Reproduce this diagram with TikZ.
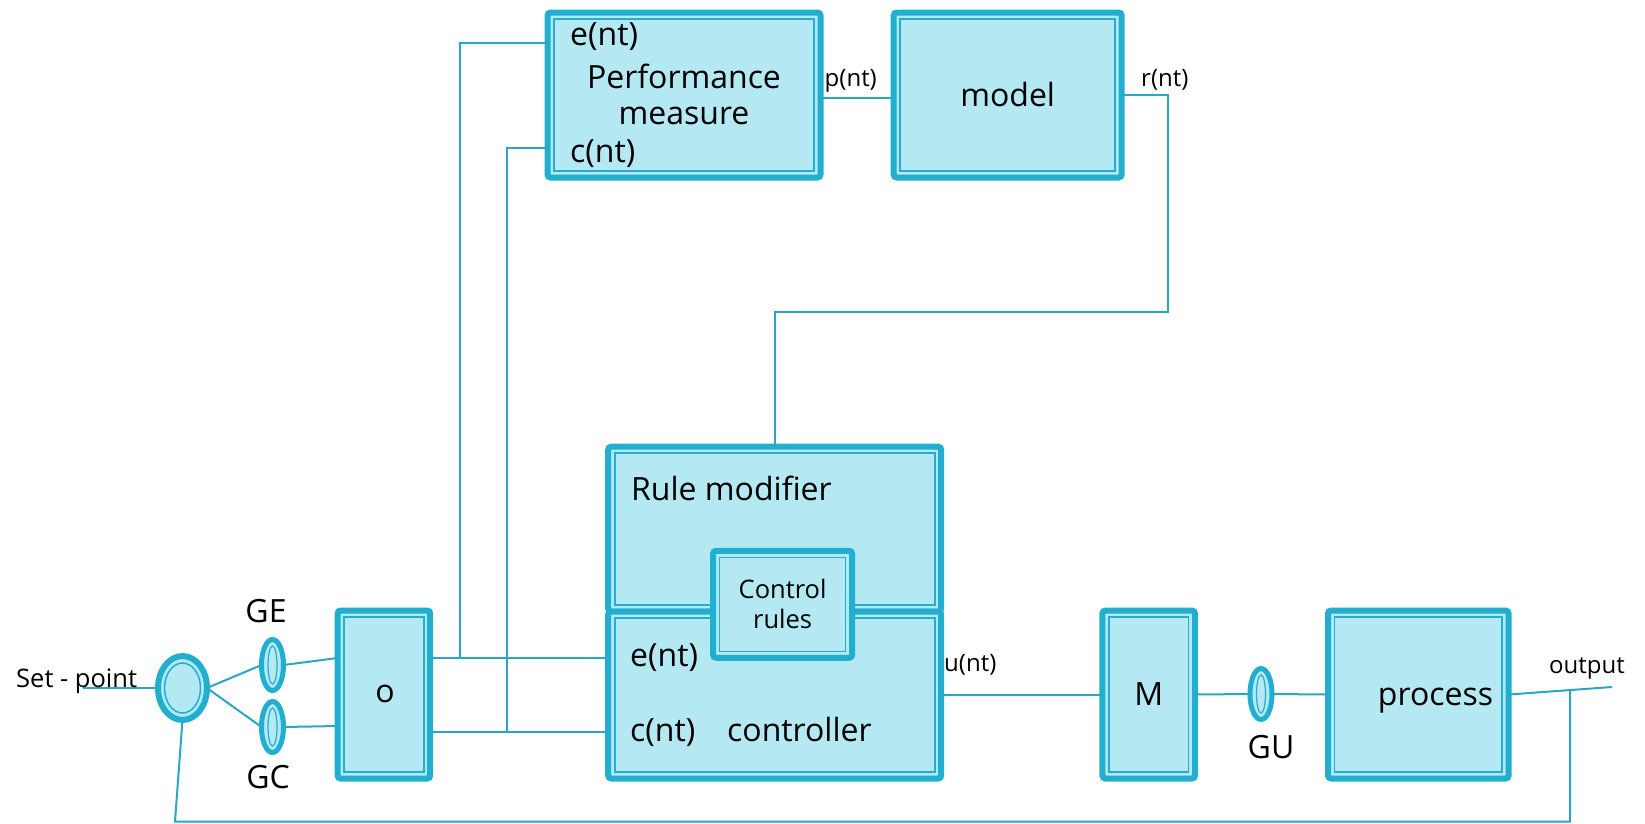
\documentclass[tikz,border=0pt]{standalone}
\usepackage{fontspec}
\setmainfont{Open Sans}
\usetikzlibrary{shapes.geometric,calc}
\definecolor{dk}{HTML}{22AFCF}
\definecolor{lt}{HTML}{B4E8F3}
\definecolor{ln}{HTML}{2AA7C6}
\tikzset{
  blk/.style={draw=dk, fill=lt, line width=6pt, rounded corners=3pt, inner sep=0pt, outer sep=0pt,
    path picture={\draw[dk, line width=1.6pt, sharp corners]
      ($(path picture bounding box.north west)+(6.5pt,-6.5pt)$) rectangle
      ($(path picture bounding box.south east)+(-6.5pt,6.5pt)$);}},
  spt/.style={ellipse, draw=dk, fill=lt, line width=6pt, minimum width=49pt, minimum height=64pt, inner sep=0pt, outer sep=0pt,
    path picture={\draw[dk, line width=1.5pt] (path picture bounding box.center) ellipse [x radius=18pt, y radius=25pt];}},
  gain/.style={ellipse, draw=dk, fill=lt, line width=5pt, minimum width=22pt, minimum height=51pt, inner sep=0pt, outer sep=0pt,
    path picture={\draw[dk, line width=1.2pt] (path picture bounding box.center) ellipse [x radius=4.5pt, y radius=19pt];}},
  conn/.style={draw=ln, line width=2pt},
  big/.style={font=\fontsize{32}{36}\selectfont, inner sep=0pt},
  mid/.style={font=\fontsize{25.5}{30}\selectfont, inner sep=0pt},
  sml/.style={font=\fontsize{24}{28}\selectfont, inner sep=0pt},
}
\begin{document}
\begin{tikzpicture}[x=1pt, y=-1pt]
\useasboundingbox (0,0) rectangle (1645,823);
% boxes
\node[blk, minimum width=273pt, minimum height=165pt] (PM) at (684,95) {};
\node[blk, minimum width=228pt, minimum height=165pt] (model) at (1007.7,95) {};
\node[blk, minimum width=333pt, minimum height=165pt] (RM) at (774.7,529.2) {};
\node[blk, minimum width=333pt, minimum height=167pt] (ctl) at (774.7,695) {};
\node[blk, minimum width=139pt, minimum height=107pt] (CR) at (782.6,604.3) {};
\node[blk, minimum width=92.6pt, minimum height=168pt] (o) at (383.9,694.5) {};
\node[blk, minimum width=92.6pt, minimum height=168pt] (M) at (1148.7,694.5) {};
\node[blk, minimum width=180.6pt, minimum height=168pt] (proc) at (1418.3,694.5) {};
% ellipses
\node[spt] (SP) at (182.5,688) {};
\node[gain] (GE) at (272.5,665) {};
\node[gain] (GC) at (272.5,727) {};
\node[gain] (GU) at (1261,694) {};
% connectors
\coordinate (spin) at (83,688);
\coordinate (out) at (1612,687);
\coordinate (j1) at (459.5,658);
\coordinate (j2) at (506.5,732);
\coordinate (fb) at (1570,689);
\coordinate (fbb) at (1570,821.5);
\coordinate (fbl) at (175,821.5);
\coordinate (rr) at (1167.5,311.5);
\draw[conn] (spin) -- (SP.west);
\draw[conn] (SP.east) -- (GE.west);
\draw[conn] (SP.east) -- (GC.west);
\draw[conn] (GE.east) -- ([yshift=36.5pt]o.west);
\draw[conn] (GC.east) -- ([yshift=-31.5pt]o.west);
\draw[conn] ([yshift=36.5pt]o.east) -- ([yshift=36.5pt]o.east -| ctl.west);
\draw[conn] ([yshift=-37.5pt]o.east) -- ([yshift=-37.5pt]o.east -| ctl.west);
\draw[conn] (j1) |- ([yshift=52pt]PM.west);
\draw[conn] (j2) |- ([yshift=-53pt]PM.west);
\draw[conn] ([yshift=-2.5pt]PM.east) -- ([yshift=-2.5pt]PM.east -| model.west);
\draw[conn] (model.east) -| (rr) -| (RM.north);
\draw[conn] (ctl.east) -- (ctl.east -| M.west);
\draw[conn] (M.east) -- (GU.west);
\draw[conn] (GU.east) -- (proc.west);
\draw[conn] (proc.east) -- (out);
\draw[conn] (fb) -- (fbb) -- (fbl) -- (SP.south);
% labels
\node[mid, anchor=base west] (lsp) at (16,687) {Set - point};
\node[big, anchor=base] (lge) at (266,622) {GE};
\node[big, anchor=base] (lgc) at (268,788) {GC};
\node[big, anchor=base] (lgu) at (1271,758) {GU};
\node[big] (lo) at (385,694) {o};
\node[big] (lM) at (1148.7,694.5) {M};
\node[big, anchor=base] (lproc) at (1435.5,705) {process};
\node[big] (lmodel) at (1007.7,94) {model};
\node[big, anchor=base west] (pe) at (570,45) {e(nt)};
\node[big, anchor=base west] (pc) at (570,162) {c(nt)};
\node[big, align=center] (perf) at (684,94) {Performance\\measure};
\node[big, anchor=base west] (lrm) at (631,500) {Rule modifier};
\node[mid, align=center] (lcr) at (782.6,604) {Control\\rules};
\node[big, anchor=base west] (ce) at (630,666) {e(nt)};
\node[big, anchor=base west] (cc) at (630,741.5) {c(nt)};
\node[big, anchor=base west] (lctl) at (727,741.5) {controller};
\node[sml, anchor=base west] (lp) at (824.5,86) {p(nt)};
\node[sml, anchor=base west] (lr) at (1141,86) {r(nt)};
\node[sml, anchor=base west] (lu) at (944,671) {u(nt)};
\node[sml, anchor=base west] (lout) at (1549,673) {output};
\end{tikzpicture}
\end{document}
